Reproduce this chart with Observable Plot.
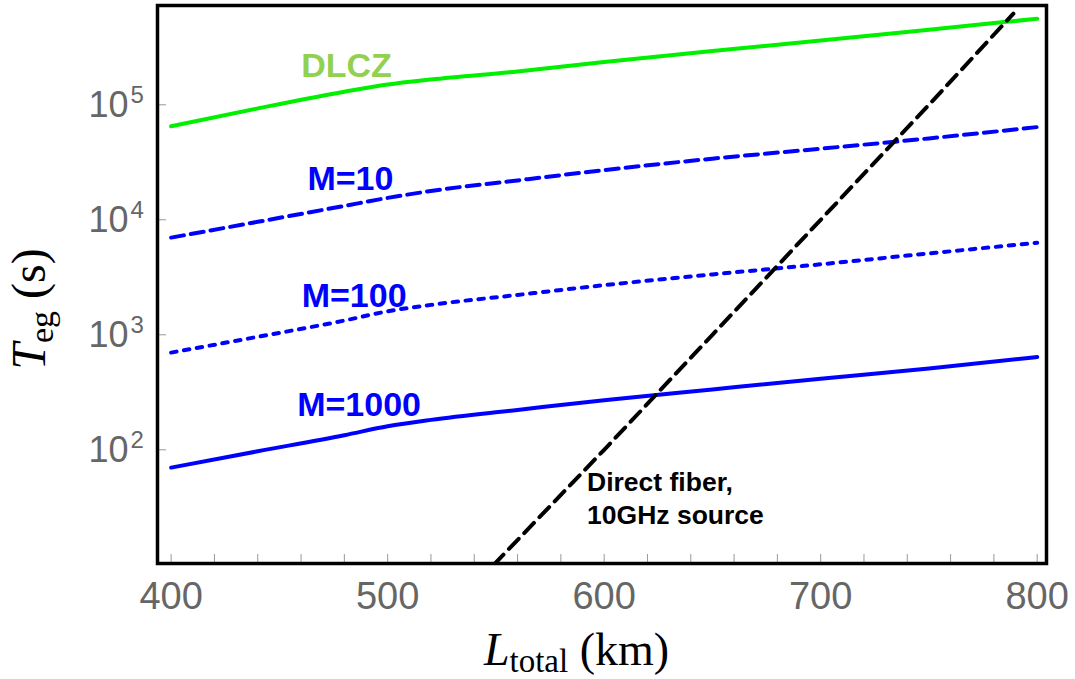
<!DOCTYPE html>
<html>
<head>
<meta charset="utf-8">
<script src="https://cdn.jsdelivr.net/npm/d3@7"></script>
<script src="https://cdn.jsdelivr.net/npm/@observablehq/plot@0.6"></script>
<style>
  html, body { margin: 0; padding: 0; background: #fff; }
  #chart svg { display: block; }
</style>
</head>
<body>
<div id="chart"></div>
<script>
// ---- Data ----
const lengthKm = [400, 440, 480, 500, 520, 560, 600, 650, 700, 750, 800];
const dlcz   = [6.5e4, 9.3e4, 1.3e5, 1.5e5, 1.66e5, 1.95e5, 2.35e5, 2.93e5, 3.62e5, 4.5e5, 5.6e5];
const m10    = [7.0e3, 9.6e3, 1.32e4, 1.55e4, 1.78e4, 2.2e4, 2.7e4, 3.4e4, 4.15e4, 5.1e4, 6.4e4];
const m100   = [7.0e2, 9.6e2, 1.33e3, 1.6e3, 1.82e3, 2.22e3, 2.7e3, 3.35e3, 4.1e3, 5.1e3, 6.3e3];
const m1000  = [70, 97, 134, 160, 182, 222, 270, 335, 415, 510, 640];

const fiberKm = [549, 600, 650, 700, 750, 789];
const fiberT  = [10, 100, 1000, 1e4, 1e5, 6.2e5];

const xTickValues = [400, 500, 600, 700, 800];
const xMinorTicks = d3.range(400, 801, 20);
const yTickValues = [100, 1000, 10000, 100000];
const yTickExponents = ["2", "3", "4", "5"];

const seriesLabels = [
  {text: "DLCZ",   L: 481,   T: 1.74e5, color: "#92d050"},
  {text: "M=10",   L: 482.8, T: 1.8e4,  color: "#0000ff"},
  {text: "M=100",  L: 484.5, T: 1.74e3, color: "#0000ff"},
  {text: "M=1000", L: 486.8, T: 195,    color: "#0000ff"}
];
const fiberLabel = {text: "Direct fiber,\n10GHz source", L: 592.1, T: 22.7};

// ---- Build tables ----
const toRows = (vals) => lengthKm.map((L, i) => ({L, T: vals[i]}));
const fiberRows = fiberKm.map((L, i) => ({L, T: fiberT[i]}));

const W = 1075, H = 679;
const mL = 157, mR = 29, mT = 5, mB = 116;
const frameW = W - mL - mR, frameH = H - mT - mB;

const chart = Plot.plot({
  width: W,
  height: H,
  marginLeft: mL,
  marginRight: mR,
  marginTop: mT,
  marginBottom: mB,
  style: {background: "#fff", fontFamily: "Liberation Sans, Arial, sans-serif", overflow: "visible"},
  x: {domain: [393.7, 804.3], axis: null},
  y: {type: "log", domain: [10.26, 7.3e5], axis: null},
  marks: [
    // ticks (inward)
    Plot.ruleX(xMinorTicks, {x: d => d, stroke: "#999", strokeWidth: 1, insetTop: frameH - 9}),
    Plot.ruleY(yTickValues, {y: d => d, stroke: "#999", strokeWidth: 1, insetRight: frameW - 9}),
    // x tick labels
    Plot.text(xTickValues, {x: d => d, frameAnchor: "bottom", text: d => String(d), lineAnchor: "top",
      dy: 19, fontSize: 38, fill: "#666"}),
    // y tick labels: base and exponent
    Plot.text(yTickValues, {y: d => d, frameAnchor: "left", text: d => "10", textAnchor: "end",
      dx: -29, dy: 1, fontSize: 36, fill: "#666"}),
    Plot.text(yTickValues, {y: d => d, frameAnchor: "left", text: (d, i) => yTickExponents[i], textAnchor: "start",
      dx: -27, dy: -9.5, fontSize: 24, fill: "#666"}),
    // series
    Plot.line(toRows(dlcz), {x: "L", y: "T", stroke: "#00f000", strokeWidth: 4, curve: "monotone-x"}),
    Plot.line(toRows(m10), {x: "L", y: "T", stroke: "#0000ff", strokeWidth: 4, strokeDasharray: "13,7", curve: "monotone-x"}),
    Plot.line(toRows(m100), {x: "L", y: "T", stroke: "#0000ff", strokeWidth: 4, strokeDasharray: "5.5,7.5", curve: "monotone-x"}),
    Plot.line(toRows(m1000), {x: "L", y: "T", stroke: "#0000ff", strokeWidth: 4, curve: "monotone-x"}),
    Plot.line(fiberRows, {x: "L", y: "T", stroke: "#000", strokeWidth: 4, strokeDasharray: "14,8", clip: true}),
    // labels
    Plot.text(seriesLabels, {x: "L", y: "T", text: "text", fill: "color", fontSize: 34, fontWeight: "bold",
      lineAnchor: "bottom", textAnchor: "middle"}),
    Plot.text([fiberLabel], {x: "L", y: "T", text: "text", fill: "#000", fontSize: 26.5, fontWeight: "bold",
      lineAnchor: "bottom", textAnchor: "start", lineHeight: 1.23}),
    Plot.frame({stroke: "#000", strokeWidth: 3.5})
  ]
});

document.getElementById("chart").appendChild(chart);

// ---- Axis titles with italic variable + subscript ----
const svg = d3.select(chart);
const serif = "Liberation Serif, Times New Roman, serif";

const xt = svg.append("text")
  .attr("x", 576.5).attr("y", 665)
  .attr("text-anchor", "middle")
  .attr("font-family", serif).attr("font-size", 46).attr("fill", "#000");
xt.append("tspan").attr("font-style", "italic").text("L");
xt.append("tspan").attr("font-size", 33).attr("dy", 7).text("total");
xt.append("tspan").attr("dy", -7).text(" (km)");

const yt = svg.append("text")
  .attr("transform", "translate(45,309) rotate(-90)")
  .attr("text-anchor", "middle")
  .attr("font-family", serif).attr("font-size", 48).attr("fill", "#000");
yt.append("tspan").attr("font-style", "italic").text("T");
yt.append("tspan").attr("font-size", 34).attr("dy", 8).text("eg");
yt.append("tspan").attr("dy", -8).text(" (s)");
</script>
</body>
</html>
